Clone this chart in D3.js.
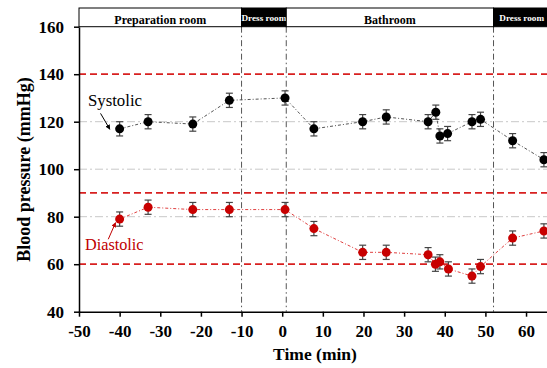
<!DOCTYPE html>
<html>
<head>
<meta charset="utf-8">
<script src="https://cdn.jsdelivr.net/npm/d3@7"></script>
<style>
  body { margin: 0; background: #fff; }
  svg { display: block; }
  text { font-family: "Liberation Serif", "Times New Roman", serif; }
</style>
</head>
<body>
<svg id="chart" width="547" height="368"></svg>
<script>
// Measurement times (min) and mean blood pressure values
const times = [-40, -33, -22, -13, 0.7, 7.8, 19.8, 25.6, 35.9, 37.8, 38.8, 40.7, 46.7, 48.8, 56.7, 64.4];
const systolic = [117, 120, 119, 129, 130, 117, 120, 122, 120, 124, 114, 115, 120, 121, 112, 104];
const systolicErr = [3, 3, 3, 3, 3, 3, 3, 3, 3, 3, 3, 3, 3, 3, 3, 3];
const diasTimes = [-40, -33, -22, -13, 0.7, 7.8, 19.8, 25.6, 35.9, 37.7, 38.8, 40.9, 46.7, 48.8, 56.7, 64.4];
const diastolic = [79, 84, 83, 83, 83, 75, 65, 65, 64, 60, 61, 58, 55, 59, 71, 74];
const diastolicErr = [3, 3, 3, 3, 3, 3, 3, 3, 3, 3, 3, 3, 3, 3, 3, 3];

// Room periods shown in the header band
const roomNames = ["Preparation room", "Dress room", "Bathroom", "Dress room"];
const roomStart = [-50, -10, 1, 52];
const roomEnd = [-10, 1, 52, 80];
const roomDark = [false, true, false, true];

// Reference levels
const limitLines = [140, 90, 60];
const gridLines = [80, 100, 120];
const xTicks = [-50, -40, -30, -20, -10, 0, 10, 20, 30, 40, 50, 60];
const yTicks = [40, 60, 80, 100, 120, 140, 160];

const svg = d3.select("#chart");

const x = d3.scaleLinear().domain([-50, 70]).range([79, 79 + 120 * 4.064]);
const y = d3.scaleLinear().domain([40, 160]).range([311.7, 26.7]);
const right = 547;

// Arrow marker defs
const defs = svg.append("defs");
[["arrowBlack", "#000"], ["arrowRed", "#c00000"]].forEach(([id, col]) => {
    defs.append("marker")
        .attr("id", id)
        .attr("viewBox", "0 -5 10 10")
        .attr("refX", 9)
        .attr("refY", 0)
        .attr("orient", "auto")
        .attr("markerWidth", 5)
        .attr("markerHeight", 5)
        .append("path")
        .attr("d", "M0,-5L10,0L0,5Z")
        .style("fill", col);
});

// Light dash-dot gridlines
svg.selectAll(".grid")
    .data(gridLines)
    .enter().append("line")
    .attr("x1", x(-50)).attr("x2", right)
    .attr("y1", d => y(d)).attr("y2", d => y(d))
    .style("stroke", "#c8c8c8")
    .style("stroke-width", 1)
    .style("stroke-dasharray", "8,3,2,3");

// Red dashed limits
svg.selectAll(".limit")
    .data(limitLines)
    .enter().append("line")
    .attr("x1", x(-50)).attr("x2", right)
    .attr("y1", d => y(d)).attr("y2", d => y(d))
    .style("stroke", "#d82020")
    .style("stroke-width", 1.8)
    .style("stroke-dasharray", "7,4");

// Vertical room boundaries
svg.selectAll(".bound")
    .data(roomStart.slice(1))
    .enter().append("line")
    .attr("x1", d => x(d)).attr("x2", d => x(d))
    .attr("y1", y(160)).attr("y2", y(40))
    .style("stroke", "#555")
    .style("stroke-width", 1)
    .style("stroke-dasharray", "6,3,1.5,3");

// Header band
const header = svg.append("g");
const hTop = 8, hBot = y(160);
roomNames.forEach((name, i) => {
    const x0 = x(roomStart[i]);
    const x1 = Math.min(x(roomEnd[i]), right + 2);
    header.append("rect")
        .attr("x", x0).attr("y", hTop)
        .attr("width", x1 - x0).attr("height", hBot - hTop)
        .style("fill", roomDark[i] ? "#000" : "#fff")
        .style("stroke", "#000")
        .style("stroke-width", 1);
    let cx = (x0 + x1) / 2;
    if (i === 3) cx = 521.7;
    header.append("text")
        .attr("x", cx)
        .attr("y", roomDark[i] ? 21 : 23.5)
        .attr("text-anchor", "middle")
        .style("font-weight", "bold")
        .style("font-size", roomDark[i] ? "9.2px" : "12px")
        .style("fill", roomDark[i] ? "#fff" : "#000")
        .text(name);
});

// Series lines
const sysPts = times.map((t, i) => ({ t, v: systolic[i], e: systolicErr[i] }));
const diaPts = diasTimes.map((t, i) => ({ t, v: diastolic[i], e: diastolicErr[i] }));
const line = d3.line().x(d => x(d.t)).y(d => y(d.v));

svg.append("path")
    .datum(sysPts)
    .attr("d", line)
    .style("fill", "none")
    .style("stroke", "#555")
    .style("stroke-width", 1)
    .style("stroke-dasharray", "3,2,1,2");

svg.append("path")
    .datum(diaPts)
    .attr("d", line)
    .style("fill", "none")
    .style("stroke", "#e04040")
    .style("stroke-width", 1)
    .style("stroke-dasharray", "3,2,1,2");

// Error bars and markers
function drawSeries(pts, color) {
    const g = svg.append("g");
    const eb = g.selectAll(".eb").data(pts).enter().append("g");
    eb.append("line")
        .attr("x1", d => x(d.t)).attr("x2", d => x(d.t))
        .attr("y1", d => y(d.v - d.e)).attr("y2", d => y(d.v + d.e));
    eb.append("line")
        .attr("x1", d => x(d.t) - 3.5).attr("x2", d => x(d.t) + 3.5)
        .attr("y1", d => y(d.v - d.e)).attr("y2", d => y(d.v - d.e));
    eb.append("line")
        .attr("x1", d => x(d.t) - 3.5).attr("x2", d => x(d.t) + 3.5)
        .attr("y1", d => y(d.v + d.e)).attr("y2", d => y(d.v + d.e));
    eb.selectAll("line").style("stroke", "#444").style("stroke-width", 1.2);

    g.selectAll(".dot").data(pts).enter().append("circle")
        .attr("cx", d => x(d.t)).attr("cy", d => y(d.v))
        .attr("r", 4.5)
        .style("fill", color);
}
drawSeries(sysPts, "#000");
drawSeries(diaPts, "#c80000");

// Axes (plain hyphen for negatives, as in the original)
const fmt = d => String(d);
const yAxis = d3.axisLeft(y).tickValues(yTicks).tickFormat(fmt).tickSize(5).tickSizeOuter(0);
const xAxis = d3.axisBottom(x).tickValues(xTicks).tickFormat(fmt).tickSize(5).tickSizeOuter(0);

const gy = svg.append("g").attr("transform", `translate(${x(-50)},0)`).call(yAxis);
const gx = svg.append("g").attr("transform", `translate(0,${y(40)})`).call(xAxis);
[gy, gx].forEach(g => {
    g.select(".domain").style("stroke", "#000").style("stroke-width", 1.5);
    g.selectAll(".tick line").style("stroke", "#000").style("stroke-width", 1.5);
    g.selectAll(".tick text")
        .style("font-family", "'Liberation Serif', serif")
        .style("font-weight", "bold")
        .style("font-size", "17px")
        .style("fill", "#000");
});
gy.selectAll(".tick text").attr("x", -15).attr("dy", "0.34em");
gx.selectAll(".tick text").attr("y", 13);

// Axis titles
svg.append("text")
    .attr("transform", "translate(30,169.5) rotate(-90)")
    .attr("text-anchor", "middle")
    .style("font-weight", "bold")
    .style("font-size", "18px")
    .text("Blood pressure (mmHg)");

svg.append("text")
    .attr("x", 315).attr("y", 360)
    .attr("text-anchor", "middle")
    .style("font-weight", "bold")
    .style("font-size", "17.5px")
    .text("Time (min)");

// Series annotations
svg.append("text")
    .attr("x", x(-47.8)).attr("y", y(126.6))
    .style("font-size", "16.8px")
    .text("Systolic");
svg.append("line")
    .attr("x1", x(-44.7)).attr("y1", y(123.5))
    .attr("x2", x(-42.4)).attr("y2", y(116.8))
    .style("stroke", "#000").style("stroke-width", 1)
    .attr("marker-end", "url(#arrowBlack)");

svg.append("text")
    .attr("x", x(-48.5)).attr("y", y(66))
    .style("font-size", "16.2px")
    .style("fill", "#c00000")
    .text("Diastolic");
svg.append("line")
    .attr("x1", x(-42.8)).attr("y1", y(70.5))
    .attr("x2", x(-41)).attr("y2", y(77.5))
    .style("stroke", "#c00000").style("stroke-width", 1)
    .attr("marker-end", "url(#arrowRed)");
</script>
</body>
</html>
